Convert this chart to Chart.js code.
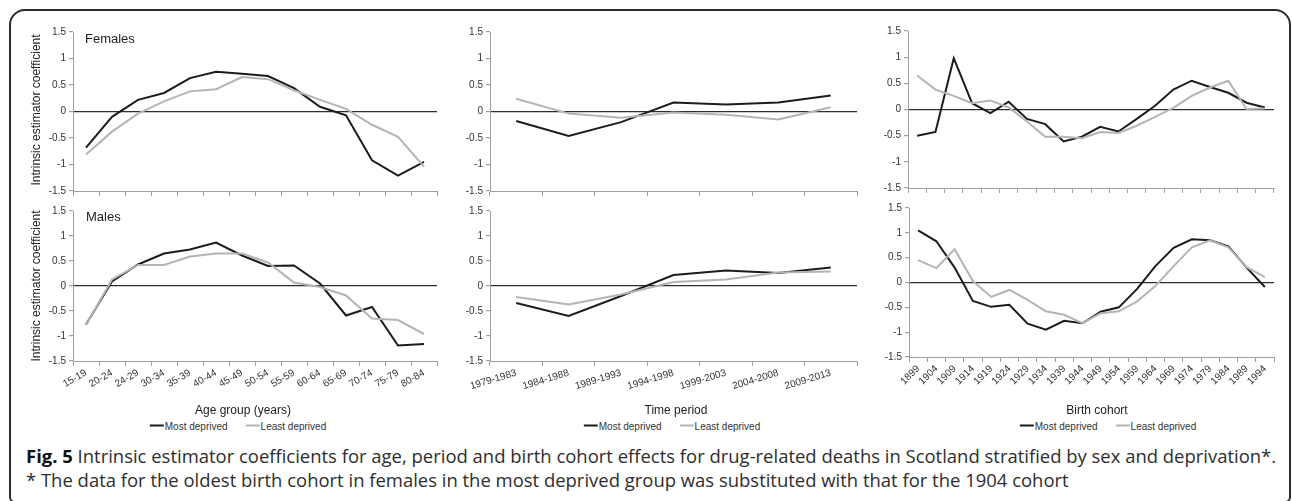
<!DOCTYPE html>
<html>
<head>
<meta charset="utf-8">
<script src="https://cdn.jsdelivr.net/npm/chart.js@4.4.1/dist/chart.umd.min.js"></script>
<style>
  html, body { margin:0; padding:0; background:#fff; }
  body { width:1292px; height:501px; position:relative; overflow:hidden; font-family:"Liberation Sans", Arial, sans-serif; color:#222; }
  #frame { position:absolute; left:9px; top:9px; width:1282px; height:494px; border:2px solid #2a2a2a; border-radius:16px 16px 6px 6px; box-sizing:border-box; }
  canvas { position:absolute; }
  .t { position:absolute; white-space:nowrap; color:#222; }
  .ytitle { font-size:12px; transform:translate(-50%,-50%) rotate(-90deg); }
  .panel { font-size:13px; transform:translateY(-50%); }
  .xtitle { font-size:12px; transform:translate(-50%,-50%); }
  .legend { font-size:10px; transform:translate(-50%,-50%); color:#333; }
  .legend .sw { display:inline-block; width:14px; height:2px; vertical-align:middle; margin-right:1px; position:relative; top:-1px; }
  .legend .item { margin-right:18px; }
  .legend .item:last-child { margin-right:0; }
  .cap { font-family:"Open Sans", "Noto Sans", sans-serif; color:#2e2e2e; font-size:15.5px; line-height:20px; left:26px; }
  .cap b { color:#111; font-weight:700; }
</style>
</head>
<body>
<div id="frame"></div>

<canvas id="c1"></canvas>
<canvas id="c2"></canvas>
<canvas id="c3"></canvas>
<canvas id="c4"></canvas>
<canvas id="c5"></canvas>
<canvas id="c6"></canvas>

<div class="t ytitle" style="left:36px;top:110px">Intrinsic estimator coefficient</div>
<div class="t ytitle" style="left:36px;top:286px">Intrinsic estimator coefficient</div>
<div class="t panel" style="left:85px;top:38px">Females</div>
<div class="t panel" style="left:86px;top:216px">Males</div>

<div class="t xtitle" style="left:243px;top:410px" id="xt1"></div>
<div class="t xtitle" style="left:676px;top:410px" id="xt2"></div>
<div class="t xtitle" style="left:1097px;top:410px" id="xt3"></div>

<div class="t legend" style="left:238px;top:426px" id="lg1"></div>
<div class="t legend" style="left:672px;top:426px" id="lg2"></div>
<div class="t legend" style="left:1108px;top:426px" id="lg3"></div>

<div class="t cap" id="cap1" style="top:446px"><b>Fig. 5</b> Intrinsic estimator coefficients for age, period and birth cohort effects for drug-related deaths in Scotland stratified by sex and deprivation*.</div>
<div class="t cap" id="cap2" style="top:470px">* The data for the oldest birth cohort in females in the most deprived group was substituted with that for the 1904 cohort</div>

<script>
// ---------- DATA ----------
const ageGroups = ['15-19','20-24','24-29','30-34','35-39','40-44','45-49','50-54','55-59','60-64','65-69','70-74','75-79','80-84'];
const periods = ['1979-1983','1984-1988','1989-1993','1994-1998','1999-2003','2004-2008','2009-2013'];
const cohorts = ['1899','1904','1909','1914','1919','1924','1929','1934','1939','1944','1949','1954','1959','1964','1969','1974','1979','1984','1989','1994'];
const yTicks = [-1.5, -1, -0.5, 0, 0.5, 1, 1.5];

const seriesNames = ['Most deprived', 'Least deprived'];
const xTitles = ['Age group (years)', 'Time period', 'Birth cohort'];

const femaleAgeMost  = [-0.68,-0.10,0.22,0.35,0.63,0.75,0.71,0.67,0.44,0.09,-0.07,-0.92,-1.21,-0.95];
const femaleAgeLeast = [-0.81,-0.38,-0.04,0.19,0.38,0.42,0.65,0.61,0.40,0.22,0.05,-0.25,-0.48,-1.04];
const maleAgeMost    = [-0.77,0.09,0.43,0.65,0.73,0.87,0.61,0.40,0.41,0.05,-0.59,-0.42,-1.19,-1.16];
const maleAgeLeast   = [-0.78,0.13,0.42,0.42,0.59,0.65,0.65,0.47,0.07,-0.02,-0.19,-0.65,-0.68,-0.96];

const femalePeriodMost  = [-0.18,-0.46,-0.20,0.17,0.13,0.17,0.30];
const femalePeriodLeast = [0.24,-0.04,-0.12,-0.02,-0.06,-0.15,0.08];
const malePeriodMost    = [-0.34,-0.60,-0.20,0.22,0.31,0.26,0.37];
const malePeriodLeast   = [-0.22,-0.37,-0.17,0.08,0.13,0.27,0.29];

const femaleCohortMost  = [-0.50,-0.43,0.98,0.12,-0.07,0.15,-0.18,-0.28,-0.61,-0.52,-0.33,-0.42,-0.18,0.07,0.38,0.55,0.43,0.32,0.13,0.04];
const femaleCohortLeast = [0.65,0.38,0.26,0.12,0.17,0.04,-0.23,-0.52,-0.52,-0.55,-0.43,-0.45,-0.31,-0.14,0.03,0.26,0.42,0.55,0.01,0.02];
const maleCohortMost    = [1.05,0.83,0.30,-0.37,-0.49,-0.45,-0.83,-0.95,-0.77,-0.82,-0.59,-0.50,-0.13,0.33,0.70,0.87,0.85,0.73,0.30,-0.09];
const maleCohortLeast   = [0.45,0.29,0.67,0.03,-0.29,-0.15,-0.35,-0.58,-0.65,-0.82,-0.62,-0.58,-0.38,-0.07,0.33,0.71,0.85,0.71,0.31,0.11];

// ---------- STYLE ----------
const MOST_COLOR = '#1c1c1c';
const LEAST_COLOR = '#b4b4b4';
const AXIS_COLOR = '#a0a0a0';
const TEXT_COLOR = '#333';
const FONT = '"Liberation Sans", Arial, sans-serif';

const Y_AXIS_W = 42;
const PAD_TOP = 8;
const PAD_RIGHT = 6;

function makeChart(id, box, labels, most, least, opt) {
  const cv = document.getElementById(id);
  const bottom = opt.showLabels ? 48 : 8;
  const w = (box.r - box.l) + Y_AXIS_W + PAD_RIGHT;
  const h = (box.b - box.t) + PAD_TOP + bottom;
  cv.width = w; cv.height = h;
  cv.style.left = (box.l - Y_AXIS_W) + 'px';
  cv.style.top = (box.t - PAD_TOP) + 'px';
  cv.style.width = w + 'px'; cv.style.height = h + 'px';

  return new Chart(cv, {
    type: 'line',
    data: {
      labels: labels,
      datasets: [
        { label: seriesNames[0], data: most, borderColor: MOST_COLOR, borderWidth: 2, pointRadius: 0, tension: 0, fill: false, order: 1 },
        { label: seriesNames[1], data: least, borderColor: LEAST_COLOR, borderWidth: 2, pointRadius: 0, tension: 0, fill: false, order: 0 }
      ]
    },
    options: {
      responsive: false,
      animation: false,
      devicePixelRatio: 1,
      layout: { padding: { top: PAD_TOP, right: PAD_RIGHT, left: 0, bottom: 0 } },
      plugins: { legend: { display: false }, tooltip: { enabled: false } },
      scales: {
        x: {
          type: 'category',
          offset: true,
          grid: { offset: true, drawOnChartArea: false, drawTicks: true, tickLength: 5, color: AXIS_COLOR, tickColor: AXIS_COLOR },
          border: { color: AXIS_COLOR, width: 1 },
          ticks: {
            display: opt.showLabels,
            autoSkip: false,
            minRotation: opt.rotation || 0,
            maxRotation: opt.rotation || 0,
            padding: 1,
            color: TEXT_COLOR,
            font: { family: FONT, size: 10 }
          },
          afterFit: s => { s.height = bottom; }
        },
        y: {
          min: yTicks[0], max: yTicks[yTicks.length - 1],
          afterBuildTicks: s => { s.ticks = yTicks.map(v => ({ value: v })); },
          grid: {
            drawTicks: true, tickLength: 4,
            color: c => (c.tick && c.tick.value === 0) ? '#2e2e2e' : 'rgba(0,0,0,0)',
            tickColor: AXIS_COLOR,
            lineWidth: 1.2
          },
          border: { color: AXIS_COLOR, width: 1 },
          ticks: {
            padding: 3,
            color: TEXT_COLOR,
            font: { family: FONT, size: 10 },
            callback: v => String(v)
          },
          afterFit: s => { s.width = Y_AXIS_W; }
        }
      }
    }
  });
}

makeChart('c1', { l: 73,  r: 437,  t: 31,  b: 192 }, ageGroups, femaleAgeMost, femaleAgeLeast, { showLabels: false });
makeChart('c2', { l: 490, r: 857,  t: 31,  b: 192 }, periods, femalePeriodMost, femalePeriodLeast, { showLabels: false });
makeChart('c3', { l: 908, r: 1274, t: 30,  b: 189 }, cohorts, femaleCohortMost, femaleCohortLeast, { showLabels: false });
makeChart('c4', { l: 73,  r: 437,  t: 210, b: 361 }, ageGroups, maleAgeMost, maleAgeLeast, { showLabels: true, rotation: 30 });
makeChart('c5', { l: 490, r: 857,  t: 210, b: 361 }, periods, malePeriodMost, malePeriodLeast, { showLabels: true, rotation: 17 });
makeChart('c6', { l: 909, r: 1274, t: 207, b: 357 }, cohorts, maleCohortMost, maleCohortLeast, { showLabels: true, rotation: 45 });

// axis titles and legends
['xt1','xt2','xt3'].forEach((id, i) => { document.getElementById(id).textContent = xTitles[i]; });
const swColors = [MOST_COLOR, LEAST_COLOR];
['lg1','lg2','lg3'].forEach(id => {
  const el = document.getElementById(id);
  seriesNames.forEach((n, i) => {
    const it = document.createElement('span');
    it.className = 'item';
    const sw = document.createElement('span');
    sw.className = 'sw';
    sw.style.background = swColors[i];
    it.appendChild(sw);
    it.appendChild(document.createTextNode(n));
    el.appendChild(it);
  });
});

// fit caption width to the reference span (x 26 -> 1277)
(function fitCaption() {
  const c1 = document.getElementById('cap1');
  const c2 = document.getElementById('cap2');
  const base = 15.5;
  const w = c1.getBoundingClientRect().width;
  const size = base * (1277 - 26) / w;
  c1.style.fontSize = size + 'px';
  c2.style.fontSize = size + 'px';
})();
</script>
</body>
</html>
